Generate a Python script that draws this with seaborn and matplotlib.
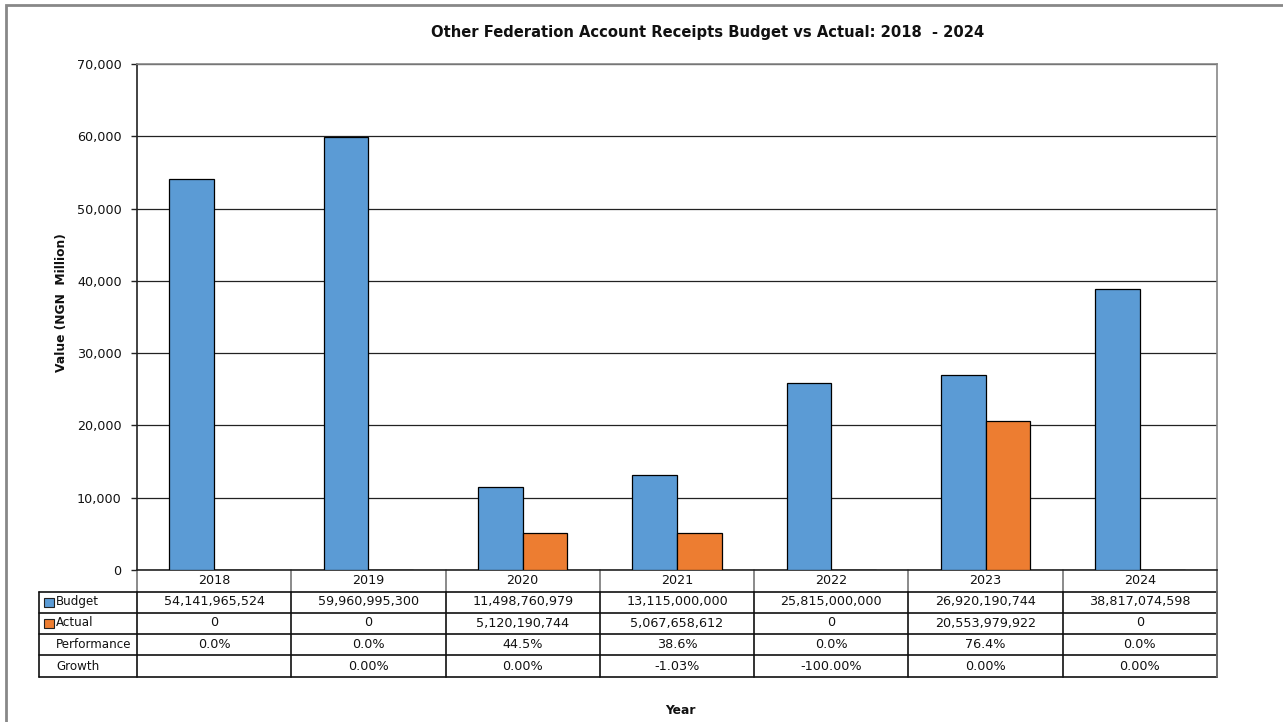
import matplotlib
matplotlib.use("Agg")
import matplotlib.pyplot as plt
from matplotlib.patches import Rectangle
from matplotlib.lines import Line2D
import matplotlib.transforms as mtransforms
import numpy as np
import pandas as pd
import seaborn as sns

# Source figures (naira)
years = ["2018", "2019", "2020", "2021", "2022", "2023", "2024"]
budget = [54141965524, 59960995300, 11498760979, 13115000000, 25815000000, 26920190744, 38817074598]
actual = [0, 0, 5120190744, 5067658612, 0, 20553979922, 0]
performance = ["0.0%", "0.0%", "44.5%", "38.6%", "0.0%", "76.4%", "0.0%"]
growth = ["", "0.00%", "0.00%", "-1.03%", "-100.00%", "0.00%", "0.00%"]

title = "Other Federation Account Receipts Budget vs Actual: 2018  - 2024"
y_ticks = [0, 10000, 20000, 30000, 40000, 50000, 60000, 70000]

BLUE = "#5B9BD5"
ORANGE = "#ED7D31"

df = pd.DataFrame({
    "Year": years * 2,
    "Series": ["Budget"] * len(years) + ["Actual"] * len(years),
    "Value": [v / 1e6 for v in budget] + [v / 1e6 for v in actual],
})

sns.set_theme(style="white")
plt.rcParams["font.family"] = ["DejaVu Sans"]

W, H = 1283, 722
fig = plt.figure(figsize=(W / 100, H / 100), dpi=100)
L, R, T, B = 137, 1217, 64, 570
ax = fig.add_axes([L / W, 1 - B / H, (R - L) / W, (B - T) / H])

sns.barplot(data=df, x="Year", y="Value", hue="Series", order=years,
            hue_order=["Budget", "Actual"], palette=[BLUE, ORANGE],
            width=0.58, gap=0, edgecolor="black", linewidth=0.9,
            saturation=1, legend=False, ax=ax, zorder=3)

FS = 9.2
ax.set_xlim(-0.5, len(years) - 0.5)
ax.set_ylim(0, 70000)
ax.set_yticks(y_ticks)
ax.set_yticklabels([f"{t:,}" for t in y_ticks], fontsize=FS, color="#111")
ax.set_xticks([])
ax.set_xlabel("")
ax.set_ylabel("")
ax.yaxis.grid(True, color="#222", linewidth=0.9, zorder=0)
ax.tick_params(axis="y", left=True, length=4, width=1, color="#222", pad=7)

for side in ["top", "right"]:
    ax.spines[side].set_color("#888")
    ax.spines[side].set_linewidth(1.2)
ax.spines["left"].set_color("#222")
ax.spines["left"].set_linewidth(1.2)
ax.spines["bottom"].set_color("#222")
ax.spines["bottom"].set_linewidth(1.2)

# Data table under the plot area
ah = B - T
def yf(py):
    return (B - py) / ah

rows_px = [570, 591.5, 612.5, 633.5, 655, 677]
rb = [yf(p) for p in rows_px]
blend = mtransforms.blended_transform_factory(ax.transData, ax.transAxes)
label_left = (39 - L) / (R - L)
n = len(years)

def hline(x0, x1, y, color="#111", lw=1.2, trans=ax.transAxes):
    ax.add_line(Line2D([x0, x1], [y, y], color=color, lw=lw, transform=trans, clip_on=False))

def vline(x, y0, y1, color="#111", lw=1.2, trans=ax.transAxes):
    ax.add_line(Line2D([x, x], [y0, y1], color=color, lw=lw, transform=trans, clip_on=False))

# header row (years)
for i in range(n + 1):
    vline(i - 0.5, rb[0], rb[1], color="#777", trans=blend)
for i, yr in enumerate(years):
    ax.text(i, (rb[0] + rb[1]) / 2, yr, transform=blend, ha="center", va="center",
            fontsize=FS, color="#111")

# body grid
for y in rb[1:]:
    hline(label_left, 1, y)
vline(label_left, rb[1], rb[-1])
for i in range(n + 1):
    vline(i - 0.5, rb[1], rb[-1], trans=blend)
vline(1, rb[0], rb[-1], color="#777")

row_values = [
    [f"{v:,}" for v in budget],
    [f"{v:,}" for v in actual],
    performance,
    growth,
]
row_names = ["Budget", "Actual", "Performance", "Growth"]
row_keys = [BLUE, ORANGE, None, None]
for r, (name, vals, key) in enumerate(zip(row_names, row_values, row_keys)):
    yc = (rb[r + 1] + rb[r + 2]) / 2
    for i, v in enumerate(vals):
        ax.text(i, yc, v, transform=blend, ha="center", va="center",
                fontsize=FS, color="#111")
    ax.text((56 - L) / (R - L), yc, name, transform=ax.transAxes, ha="left",
            va="center", fontsize=8.6, color="#111")
    if key is not None:
        kx = (44 - L) / (R - L)
        ax.add_patch(Rectangle((kx, yc - 4.5 / ah), 10 / (R - L), 9 / ah,
                               facecolor=key, edgecolor="#222", lw=0.8,
                               transform=ax.transAxes, clip_on=False))

fig.text(708 / W, 1 - 33 / H, title, ha="center", va="center",
         fontsize=10.6, fontweight="bold", color="#111")
fig.text(62 / W, 1 - 303 / H, "Value (NGN  Million)", rotation=90, ha="center",
         va="center", fontsize=8.8, fontweight="bold", color="#111")
fig.text(680 / W, 1 - 710 / H, "Year", ha="center", va="center",
         fontsize=8.8, fontweight="bold", color="#111")

# outer chart frame
fig.add_artist(Rectangle((6 / W, -0.1), 1.2, 1.1 - 5 / H, transform=fig.transFigure,
                         fill=False, edgecolor="#888", lw=2))

fig.savefig("out.png", dpi=100, facecolor="white")
